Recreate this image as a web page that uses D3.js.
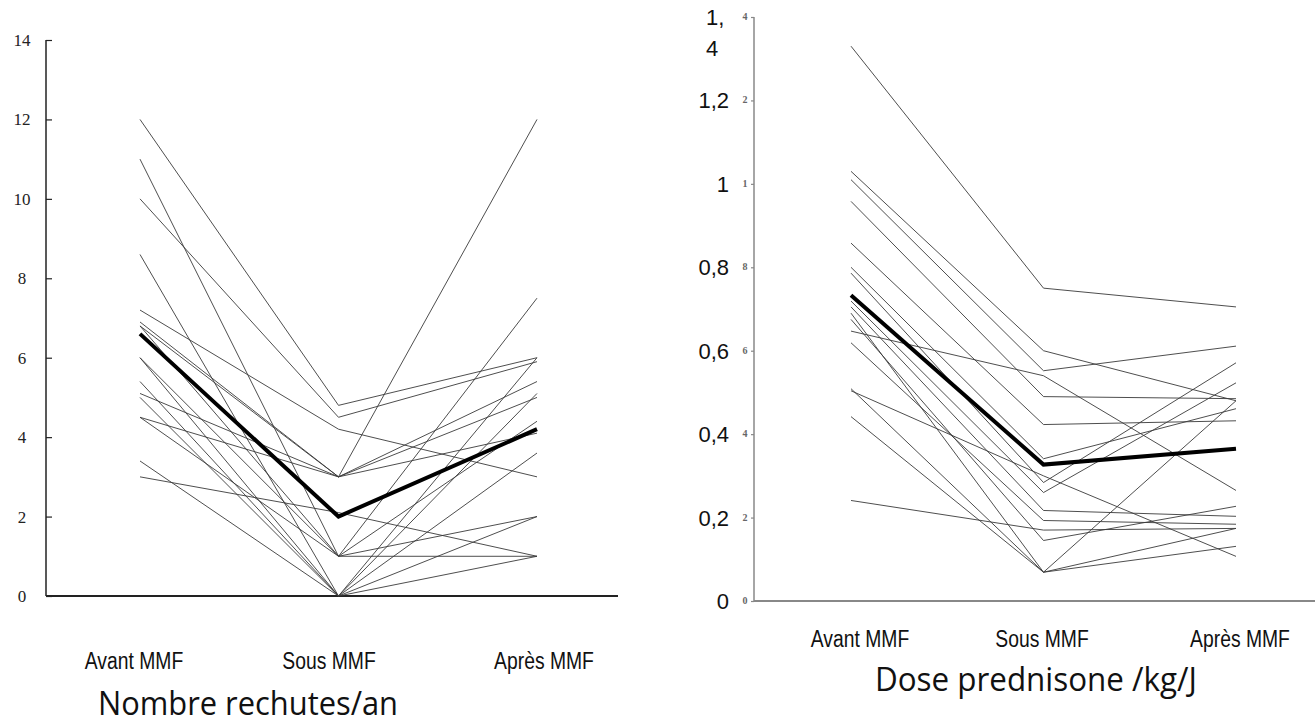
<!DOCTYPE html>
<html>
<head>
<meta charset="utf-8">
<script src="https://cdn.jsdelivr.net/npm/d3@7"></script>
<style>
  body { margin: 0; background: #fff; }
  svg { display: block; }
</style>
</head>
<body>
<div id="chart"></div>
<script>
// data
var categories = ["Avant MMF", "Sous MMF", "Après MMF"];

var relapseTicks = [0, 2, 4, 6, 8, 10, 12, 14];
var relapsePatients = [
  [12, 4.8, 6.0],
  [11, 1.0, 7.5],
  [10, 4.5, 5.9],
  [8.6, 0, 5.1],
  [7.2, 4.2, 3.0],
  [6.9, 3.0, 12],
  [6.8, 3.0, 5.4],
  [6.8, 1.0, 4.4],
  [6.0, 0, 2.0],
  [6.0, 1.0, 1.0],
  [5.4, 0, 3.6],
  [5.1, 3.0, 4.1],
  [5.0, 0, 1.0],
  [4.5, 3.0, 5.0],
  [4.5, 1.0, 2.0],
  [3.4, 0, 6.0],
  [3.0, 2.1, 1.0]
];
var relapseMean = [6.6, 2.0, 4.2];

var doseTicks = [0, 0.2, 0.4, 0.6, 0.8, 1, 1.2, 1.4];
var doseTickLabels = ["0", "0,2", "0,4", "0,6", "0,8", "1", "1,2", "1,|4"];
var doseScanLabels = ["0", "2", "4", "6", "8", "1", "2", "4"];
var dosePatients = [
  [1.33, 0.75, 0.705],
  [1.03, 0.60, 0.48],
  [1.01, 0.552, 0.611],
  [0.958, 0.49, 0.485],
  [0.858, 0.423, 0.432],
  [0.80, 0.341, 0.461],
  [0.786, 0.284, 0.571],
  [0.719, 0.26, 0.523],
  [0.705, 0.217, 0.203],
  [0.69, 0.069, 0.48],
  [0.675, 0.145, 0.227],
  [0.647, 0.54, 0.265],
  [0.619, 0.193, 0.184],
  [0.509, 0.069, 0.131],
  [0.504, 0.30, 0.107],
  [0.442, 0.069, 0.174],
  [0.241, 0.17, 0.174]
];
var doseMean = [0.733, 0.327, 0.365];

var w = 1315, h = 727;
var svg = d3.select("#chart").append("svg")
    .attr("width", w)
    .attr("height", h);

// squeeze a text to look like a narrow face
function narrow(sel, k) {
  sel.each(function() {
    var len = this.getComputedTextLength();
    d3.select(this).attr("textLength", len * k).attr("lengthAdjust", "spacingAndGlyphs");
  });
}

function panel(opt) {
  var g = svg.append("g");
  var x = d3.scalePoint().domain(categories).range(opt.xRange);
  var y = d3.scaleLinear().domain(opt.yDomain).range(opt.yRange);
  var line = d3.line()
      .x(function(d, i) { return x(categories[i]); })
      .y(function(d) { return y(d); });

  var yAxis = g.append("g")
      .attr("transform", "translate(" + opt.axisX + ",0)")
      .call(d3.axisLeft(y).tickValues(opt.ticks).tickSize(opt.tickSize).tickFormat(""));
  yAxis.select(".domain").attr("d", "M0," + y(opt.yDomain[1]) + "V" + y(0))
      .attr("stroke", opt.axisColor).attr("stroke-width", 1.5);
  yAxis.selectAll(".tick line").attr("stroke", opt.axisColor).attr("stroke-width", 1.2);

  g.append("line")
      .attr("x1", opt.axisX).attr("x2", opt.xAxisEnd)
      .attr("y1", y(0)).attr("y2", y(0))
      .attr("stroke", opt.axisColor).attr("stroke-width", 1.8);

  g.selectAll("path.patient")
      .data(opt.patients)
    .enter().append("path")
      .attr("class", "patient")
      .attr("fill", "none")
      .attr("stroke", "#3a3a3a")
      .attr("stroke-width", 0.9)
      .attr("d", line);

  g.append("path")
      .datum(opt.mean)
      .attr("fill", "none")
      .attr("stroke", "#000")
      .attr("stroke-width", 4)
      .attr("d", line);

  g.selectAll("text.cat")
      .data(categories)
    .enter().append("text")
      .attr("class", "cat")
      .attr("x", function(d, i) { return opt.catX[i]; })
      .attr("y", opt.catY)
      .attr("text-anchor", "middle")
      .style("font-family", "'Liberation Sans', Arial, sans-serif")
      .style("font-size", "23px")
      .style("fill", "#111")
      .text(function(d) { return d; })
      .call(narrow, 0.84);

  g.append("text")
      .attr("x", opt.titleX)
      .attr("y", opt.titleY)
      .attr("text-anchor", "middle")
      .attr("textLength", opt.titleWidth)
      .attr("lengthAdjust", "spacingAndGlyphs")
      .style("font-family", "'Open Sans', 'DejaVu Sans', sans-serif")
      .style("font-size", "32px")
      .style("fill", "#111")
      .text(opt.title);

  return { g: g, x: x, y: y };
}

// left: relapses per year
var left = panel({
  xRange: [140, 537], yDomain: [0, 14], yRange: [596, 40],
  axisX: 46, xAxisEnd: 618, ticks: relapseTicks, tickSize: -6,
  axisColor: "#222",
  patients: relapsePatients, mean: relapseMean,
  catX: [134, 329, 544], catY: 669,
  title: "Nombre rechutes/an", titleX: 248, titleY: 715, titleWidth: 300
});
left.g.selectAll("text.ytick")
    .data(relapseTicks)
  .enter().append("text")
    .attr("class", "ytick")
    .attr("x", 22)
    .attr("y", function(d) { return left.y(d) + 6; })
    .attr("text-anchor", "middle")
    .style("font-family", "'Liberation Serif', serif")
    .style("font-size", "17px")
    .style("fill", "#222")
    .text(function(d) { return d; });

// right: prednisone dose
var right = panel({
  xRange: [851, 1236], yDomain: [0, 1.4], yRange: [601, 17],
  axisX: 754, xAxisEnd: 1315, ticks: doseTicks, tickSize: 3,
  axisColor: "#888",
  patients: dosePatients, mean: doseMean,
  catX: [860, 1042, 1240], catY: 647,
  title: "Dose prednisone /kg/J", titleX: 1036, titleY: 691, titleWidth: 322
});
right.g.selectAll("text.scan")
    .data(doseTicks)
  .enter().append("text")
    .attr("class", "scan")
    .attr("x", 745)
    .attr("y", function(d) { return right.y(d) + 3; })
    .attr("text-anchor", "middle")
    .style("font-family", "'Liberation Serif', serif")
    .style("font-size", "10px")
    .style("font-weight", "bold")
    .style("fill", "#666")
    .text(function(d, i) { return doseScanLabels[i]; });

right.g.selectAll("text.ytick")
    .data(doseTicks)
  .enter().append("text")
    .attr("class", "ytick")
    .attr("x", 729)
    .attr("y", function(d) { return right.y(d) + 8; })
    .attr("text-anchor", "end")
    .style("font-family", "'Liberation Sans', Arial, sans-serif")
    .style("font-size", "22px")
    .style("fill", "#111")
    .each(function(d, i) {
      var parts = doseTickLabels[i].split("|");
      var t = d3.select(this);
      if (parts.length > 1) {
        t.attr("text-anchor", "start").attr("x", 706).attr("y", right.y(d) + 8);
        t.append("tspan").text(parts[0]);
        t.append("tspan").attr("x", 706).attr("dy", 31).text(parts[1]);
      } else {
        t.text(parts[0]);
      }
    });
</script>
</body>
</html>
